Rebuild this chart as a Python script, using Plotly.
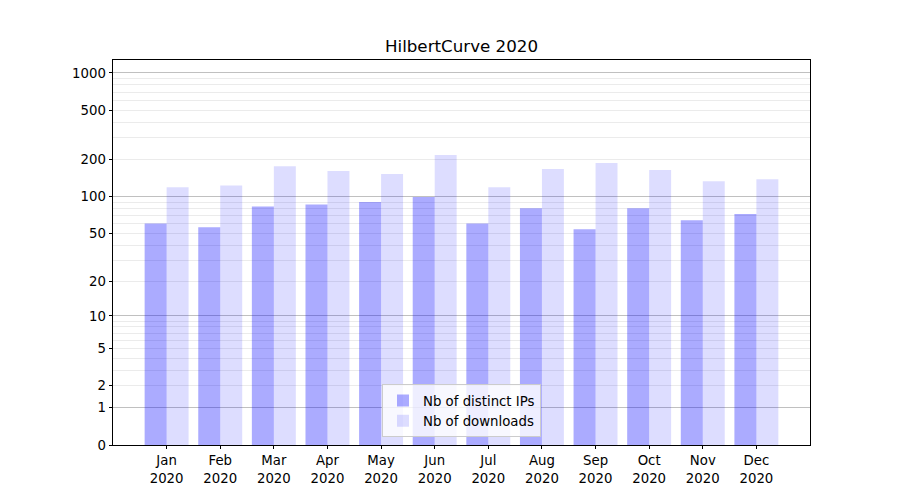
import math
import plotly.graph_objects as go

months = ["Jan", "Feb", "Mar", "Apr", "May", "Jun", "Jul", "Aug", "Sep", "Oct", "Nov", "Dec"]
year = "2020"
distinct_ips = [60, 56, 83, 86, 90, 99, 60, 80, 54, 80, 64, 72]
downloads = [119, 123, 176, 161, 152, 217, 119, 167, 187, 164, 133, 138]
y_tick_values = [0, 1, 2, 5, 10, 20, 50, 100, 200, 500, 1000]
major_grid_values = [1, 10, 100, 1000]
minor_grid_values = [v * m for v in [1, 10, 100] for m in range(2, 10)]
y_max = 1272


# log10(1 + x) scale, drawn with plotly's log axis on (value + 1)
def shift(vals):
    return [v + 1 for v in vals]


yrange = [0, math.log10(y_max + 1)]

x = list(range(len(months)))
ticktext = [f"{m}<br>{year}" for m in months]
bw = 0.41

fig = go.Figure()
fig.add_trace(go.Bar(x=x, y=shift(distinct_ips), name="Nb of distinct IPs",
                     width=bw, offset=-bw, yaxis="y",
                     marker=dict(color="rgba(0,0,255,0.33)", line=dict(width=0))))
fig.add_trace(go.Bar(x=x, y=shift(downloads), name="Nb of downloads",
                     width=bw, offset=0, yaxis="y2",
                     marker=dict(color="rgba(0,0,255,0.135)", line=dict(width=0))))

font = dict(family="DejaVu Sans", size=13.3, color="black")

W, H = 884, 484
fig.update_layout(
    width=W, height=H,
    margin=dict(l=104.5, r=82, t=52, b=47, autoexpand=False),
    paper_bgcolor="white", plot_bgcolor="white",
    barmode="overlay",
    font=font,
    title=dict(text="HilbertCurve 2020", x=0.5, xref="paper", xanchor="center",
               y=1 - 38 / H, yanchor="middle",
               font=dict(family="DejaVu Sans", size=16.7, color="black")),
    xaxis=dict(range=[-1, 12], tickmode="array", tickvals=x, ticktext=ticktext,
               showgrid=False, zeroline=False, showline=True, linecolor="black", linewidth=0.8,
               mirror=True, ticks="outside", ticklen=3.5, tickwidth=0.8, tickcolor="black",
               tickfont=font),
    yaxis=dict(type="log", range=yrange, tickmode="array", tickvals=shift(y_tick_values),
               ticktext=[str(v) for v in y_tick_values],
               showgrid=False, zeroline=False, showline=True, linecolor="black", linewidth=0.8,
               mirror=True, ticks="outside", ticklen=3.5, tickwidth=0.8, tickcolor="black",
               tickfont=font,
               minor=dict(tickmode="array", tickvals=shift(minor_grid_values), showgrid=True,
                          gridcolor="#ebebeb", gridwidth=0.8, ticks="")),
    yaxis2=dict(type="log", range=yrange, overlaying="y", anchor="x", side="left",
                tickmode="array", tickvals=shift(major_grid_values), showticklabels=False,
                showgrid=True, gridcolor="#c0c0c0", gridwidth=0.8, ticks="", showline=False,
                zeroline=False),
    legend=dict(x=0.5, y=0.02, xanchor="center", yanchor="bottom",
                bgcolor="rgba(255,255,255,0.8)", bordercolor="#cccccc", borderwidth=1,
                font=dict(family="DejaVu Sans", size=13.3, color="black"),
                traceorder="normal"),
    showlegend=True,
)

fig.write_html("out.html")
